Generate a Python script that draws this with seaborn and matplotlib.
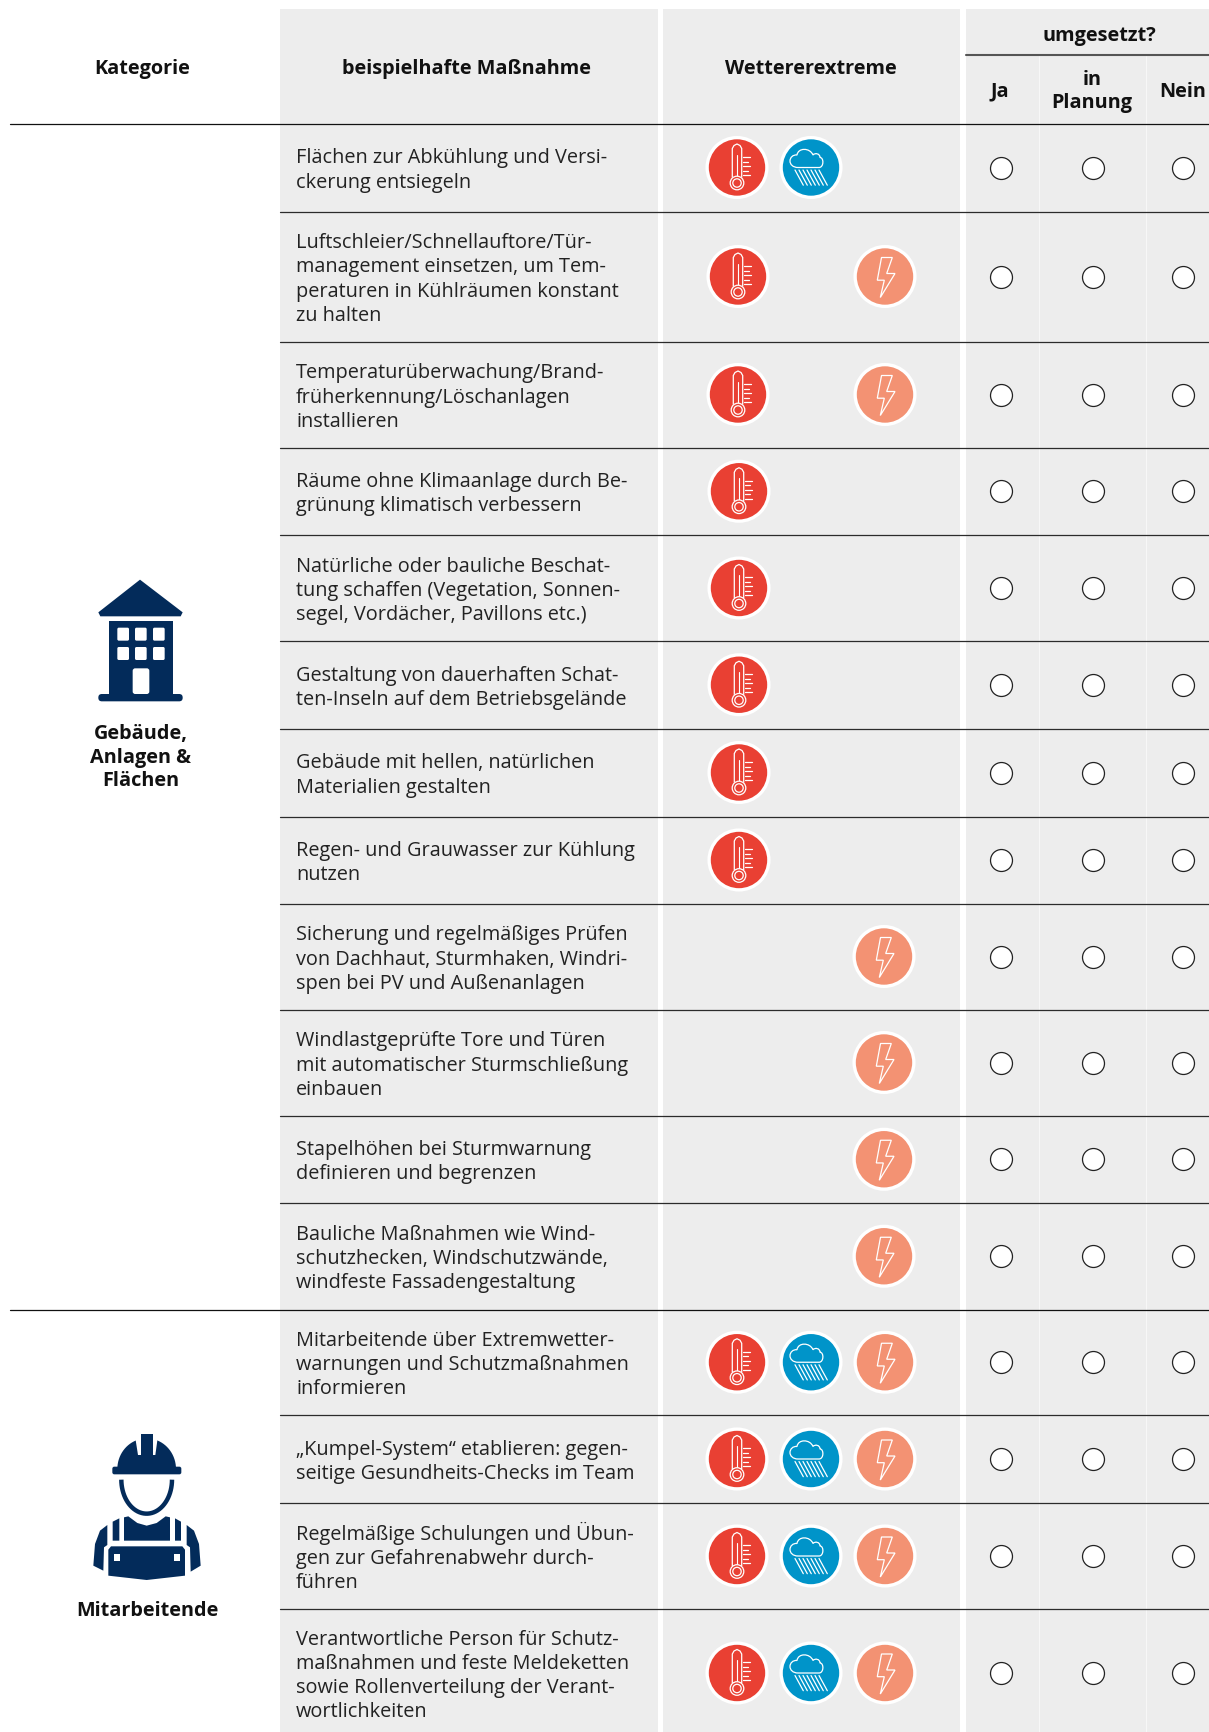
import matplotlib
matplotlib.use("Agg")
import numpy as np
import pandas as pd
import matplotlib.pyplot as plt
import seaborn as sns
from matplotlib.path import Path
from matplotlib.patches import PathPatch, Polygon, Rectangle, FancyBboxPatch, Circle


MEASURES = [
    ["Flächen zur Abkühlung und Versi-", "ckerung entsiegeln"],
    ["Luftschleier/Schnellauftore/Tür-", "management einsetzen, um Tem-", "peraturen in Kühlräumen konstant", "zu halten"],
    ["Temperaturüberwachung/Brand-", "früherkennung/Löschanlagen", "installieren"],
    ["Räume ohne Klimaanlage durch Be-", "grünung klimatisch verbessern"],
    ["Natürliche oder bauliche Beschat-", "tung schaffen (Vegetation, Sonnen-", "segel, Vordächer, Pavillons etc.)"],
    ["Gestaltung von dauerhaften Schat-", "ten-Inseln auf dem Betriebsgelände"],
    ["Gebäude mit hellen, natürlichen", "Materialien gestalten"],
    ["Regen- und Grauwasser zur Kühlung", "nutzen"],
    ["Sicherung und regelmäßiges Prüfen", "von Dachhaut, Sturmhaken, Windri-", "spen bei PV und Außenanlagen"],
    ["Windlastgeprüfte Tore und Türen", "mit automatischer Sturmschließung", "einbauen"],
    ["Stapelhöhen bei Sturmwarnung", "definieren und begrenzen"],
    ["Bauliche Maßnahmen wie Wind-", "schutzhecken, Windschutzwände,", "windfeste Fassadengestaltung"],
    ["Mitarbeitende über Extremwetter-", "warnungen und Schutzmaßnahmen", "informieren"],
    ["„Kumpel-System“ etablieren: gegen-", "seitige Gesundheits-Checks im Team"],
    ["Regelmäßige Schulungen und Übun-", "gen zur Gefahrenabwehr durch-", "führen"],
    ["Verantwortliche Person für Schutz-", "maßnahmen und feste Meldeketten", "sowie Rollenverteilung der Verant-", "wortlichkeiten"],
]
HEAT = [1, 1, 1, 1, 1, 1, 1, 1, 0, 0, 0, 0, 1, 1, 1, 1]
RAIN = [1, 0, 0, 0, 0, 0, 0, 0, 0, 0, 0, 0, 1, 1, 1, 1]
STORM = [0, 1, 1, 0, 0, 0, 0, 0, 1, 1, 1, 1, 1, 1, 1, 1]
OPTIONS = ["Ja", "in\nPlanung", "Nein"]
CATEGORIES = ["Gebäude,\nAnlagen &\nFlächen", "Mitarbeitende"]

# layout in pixels of the final image
ROW_EDGES = [124.5, 212.5, 342.5, 448.5, 536, 642, 729.5, 817.5, 904.5, 1010.5, 1116.5, 1204, 1310.5, 1416, 1504, 1610, 1738]
HEAT_X = [737, 738, 738, 739, 739, 739, 739, 739, 0, 0, 0, 0, 737, 737, 737, 737]
RAIN_X = 811
STORM_X = [885, 885, 885, 885, 885, 885, 885, 885, 884, 884, 884, 884, 885, 885, 885, 885]
OPTION_X = [1001, 1092.5, 1183]

GREY = "#ededed"
LINE = "#2b2b2b"
NAVY = "#032b5a"
RED = "#e94033"
BLUE = "#0094c9"
SALMON = "#f39273"
BODY = 14.3
HEAD = 14.3
LINE_H = 24.2


def draw_thermometer(ax, cx, cy):
    ax.add_patch(Polygon([(cx - 4.7, cy + 10), (cx - 4.7, cy - 19), (cx - 3, cy - 22), (cx, cy - 23.5),
                          (cx + 3, cy - 22), (cx + 4.7, cy - 19), (cx + 4.7, cy + 10)],
                         closed=False, fill=False, ec="white", lw=0.9, zorder=5))
    ax.add_patch(Circle((cx, cy + 15.5), 6.8, fc=RED, ec="white", lw=0.9, zorder=6))
    ax.add_patch(Circle((cx, cy + 15.5), 4.2, fc=RED, ec="white", lw=0.9, zorder=6))
    ax.plot([cx, cx], [cy - 13, cy + 10], color="white", lw=0.8, zorder=5)
    for k, dy in enumerate([-10.7, -6, -1.7, 3, 7.3]):
        ax.plot([cx + 6, cx + (13.3 if k % 2 == 0 else 11)], [cy + dy, cy + dy], color="white", lw=0.9, zorder=5)


def draw_rain(ax, cx, cy):
    codes = [Path.MOVETO] + [Path.CURVE4] * 15 + [Path.LINETO, Path.CLOSEPOLY]
    verts = [(-13, 0), (-18, 0), (-21, -3), (-21, -6.5),
             (-21, -10), (-18, -13), (-14, -12.5),
             (-13, -20), (-1, -20), (2, -12.5),
             (4, -15), (9, -14), (9, -10),
             (13, -10), (13, 0), (8, 0), (-13, 0), (-13, 0)]
    ax.add_patch(PathPatch(Path([(cx + x, cy + y) for x, y in verts], codes),
                           fill=False, ec="white", lw=0.9, zorder=5))
    for k in range(7):
        x0 = cx - 16 + 4 * k
        ax.plot([x0, x0 + 8.3], [cy + 2.5, cy + 17.7], color="white", lw=0.9, zorder=5)


def draw_bolt(ax, cx, cy):
    pts = [(-3.5, -19), (7.3, -19), (1.7, -3), (10, -3), (-4.7, 21), (-0.7, 3.7), (-7.7, 3.7)]
    ax.add_patch(Polygon([(cx + x, cy + y) for x, y in pts], closed=True, fill=False,
                         ec="white", lw=0.9, joinstyle="miter", zorder=5))


def zoomed(x0, y0, pts):
    return [(x0 + x / 3, y0 + y / 3) for x, y in pts]


def rounded_box(ax, x0, y0, x1, y1, r, color):
    ax.add_patch(FancyBboxPatch((x0 + r, y0 + r), x1 - x0 - 2 * r, y1 - y0 - 2 * r,
                                boxstyle=f"round,pad={r}", fc=color, ec="none", zorder=4))


def draw_building(ax):
    ox, oy = 60, 560
    ax.add_patch(Polygon(zoomed(ox, oy, [(240, 62), (368, 160), (362, 172), (121, 172), (115, 160)]),
                         fc=NAVY, ec="none", zorder=3))
    ax.add_patch(Polygon(zoomed(ox, oy, [(146, 185), (340, 185), (340, 410), (146, 410)]), fc=NAVY, ec="none", zorder=3))
    rounded_box(ax, ox + 115 / 3, oy + 405 / 3, ox + 368 / 3, oy + 427 / 3, 3.5, NAVY)
    for wy0, wy1 in [(206, 245), (264, 303)]:
        for wx0, wx1 in [(172, 207), (225, 260), (279, 314)]:
            rounded_box(ax, ox + wx0 / 3, oy + wy0 / 3, ox + wx1 / 3, oy + wy1 / 3, 1.5, "white")
    rounded_box(ax, ox + 218 / 3, oy + 328 / 3, ox + 268 / 3, oy + 405 / 3, 2.5, "white")


def draw_worker(ax):
    ox, oy = 50, 1420
    # helmet
    t = np.linspace(np.pi, 2 * np.pi, 40)
    dome = list(zip(290 + 88 * np.cos(t), 150 + 92 * np.sin(t)))
    ax.add_patch(Polygon(zoomed(ox, oy, dome), fc=NAVY, ec="none", zorder=3))
    ax.add_patch(Polygon(zoomed(ox, oy, [(256, 50), (272, 50), (272, 108), (264, 108)]), fc="white", ec="none", zorder=4))
    ax.add_patch(Polygon(zoomed(ox, oy, [(308, 50), (324, 50), (316, 108), (308, 108)]), fc="white", ec="none", zorder=4))
    ax.add_patch(Polygon(zoomed(ox, oy, [(272, 46), (308, 46), (308, 108), (272, 108)]), fc=NAVY, ec="none", zorder=4))
    rounded_box(ax, ox + 187 / 3, oy + 143 / 3, ox + 394 / 3, oy + 166 / 3, 2, NAVY)
    # face outline
    t = np.linspace(0, np.pi, 40)
    ax.plot(ox + (290 + 76 * np.cos(t)) / 3, oy + (182 + 102 * np.sin(t)) / 3,
            color=NAVY, lw=3.2, solid_capstyle="butt", zorder=3)
    # bib, straps, sleeves, apron
    bib = [(222, 365), (222, 295), (235, 292), (262, 312), (290, 320), (320, 312), (347, 292), (360, 295), (360, 365)]
    ax.add_patch(Polygon(zoomed(ox, oy, bib), fc=NAVY, ec="none", zorder=3))
    ax.add_patch(Polygon(zoomed(ox, oy, [(188, 308), (208, 298), (208, 365), (188, 365)]), fc=NAVY, ec="none", zorder=3))
    ax.add_patch(Polygon(zoomed(ox, oy, [(375, 298), (393, 308), (393, 365), (375, 365)]), fc=NAVY, ec="none", zorder=3))
    ax.add_patch(Polygon(zoomed(ox, oy, [(172, 318), (172, 378), (162, 385), (160, 455), (130, 440), (135, 375), (150, 335)]),
                         fc=NAVY, ec="none", zorder=3))
    ax.add_patch(Polygon(zoomed(ox, oy, [(410, 318), (410, 378), (420, 385), (422, 458), (452, 440), (447, 375), (432, 335)]),
                         fc=NAVY, ec="none", zorder=3))
    ax.add_patch(Polygon(zoomed(ox, oy, [(175, 392), (183, 382), (397, 382), (405, 392), (405, 470), (290, 483), (175, 470)]),
                         fc=NAVY, ec="none", zorder=3))
    for sx in [191, 371]:
        ax.add_patch(Rectangle((ox + sx / 3, oy + 405 / 3), 6, 6.5, fc="white", ec="none", zorder=4))


sns.set_theme(style="white")
plt.rcParams["font.family"] = ["Open Sans", "DejaVu Sans"]

fig = plt.figure(figsize=(12.09, 17.33), dpi=100, facecolor="white")
ax = fig.add_axes([0, 0, 1, 1])

n = len(MEASURES)
edges = np.array(ROW_EDGES, dtype=float)
centers = (edges[:-1] + edges[1:]) / 2

# grey column backgrounds
for x0, x1 in [(280, 657.5), (662.5, 960), (966, 1209)]:
    ax.add_patch(Rectangle((x0, 10), x1 - x0, 1733, fc=GREY, ec="none", zorder=0))
for x in [1039, 1146]:
    ax.plot([x, x], [57, 1733], color="#f7f7f7", lw=0.8, zorder=1)

# rules
ax.plot([966, 1209], [56, 56], color="#555555", lw=1.5, zorder=2)
ax.plot([10, 1209], [124.5, 124.5], color="#111111", lw=0.9, zorder=2)
ax.plot([10, 1209], [1310.5, 1310.5], color="#111111", lw=0.9, zorder=2)
for y in edges[1:-1]:
    if y != 1310.5:
        ax.plot([280, 1209], [y, y], color=LINE, lw=0.9, zorder=2)

# weather discs
disc_rows = []
for i in range(n):
    if HEAT[i]:
        disc_rows.append(dict(x=HEAT_X[i], y=centers[i], kind="heat"))
    if RAIN[i]:
        disc_rows.append(dict(x=RAIN_X, y=centers[i], kind="rain"))
    if STORM[i]:
        disc_rows.append(dict(x=STORM_X[i], y=centers[i], kind="storm"))
discs = pd.DataFrame(disc_rows)
sns.scatterplot(data=discs, x="x", y="y", hue="kind", palette={"heat": RED, "rain": BLUE, "storm": SALMON},
                s=1850, edgecolor="white", linewidth=2.4, legend=False, zorder=4, ax=ax)
for _, d in discs.iterrows():
    {"heat": draw_thermometer, "rain": draw_rain, "storm": draw_bolt}[d["kind"]](ax, d["x"], d["y"])

# answer circles
radios = pd.DataFrame([dict(x=x, y=c) for c in centers for x in OPTION_X])
sns.scatterplot(data=radios, x="x", y="y", color="white", s=250, edgecolor="#222222", linewidth=0.9,
                legend=False, zorder=4, ax=ax)

# measure texts
for i, lines in enumerate(MEASURES):
    top = centers[i] - LINE_H * (len(lines) - 1) / 2
    for k, line in enumerate(lines):
        ax.text(296, top + k * LINE_H + 7, line, fontsize=BODY, color="#222222", ha="left", va="baseline", zorder=5)

# headers
head = dict(fontsize=HEAD, fontweight="bold", color="#111111", ha="center", va="center", zorder=5)
ax.text(142, 68.5, "Kategorie", **head)
ax.text(467, 68.5, "beispielhafte Maßnahme", **head)
ax.text(811, 68.5, "Wettererextreme", **head)
ax.text(1099, 35.5, "umgesetzt?", **head)
ax.text(1000, 91.5, OPTIONS[0], **head)
ax.text(1092, 91.5, OPTIONS[1], linespacing=1.24, **head)
ax.text(1183, 91.5, OPTIONS[2], **head)
ax.text(141, 757.5, CATEGORIES[0], linespacing=1.24, **head)
ax.text(147, 1611, CATEGORIES[1], **head)

draw_building(ax)
draw_worker(ax)

ax.set_xlim(0, 1209)
ax.set_ylim(1733, 0)
ax.axis("off")
fig.savefig("out.png", dpi=100, facecolor="white")
plt.close(fig)
